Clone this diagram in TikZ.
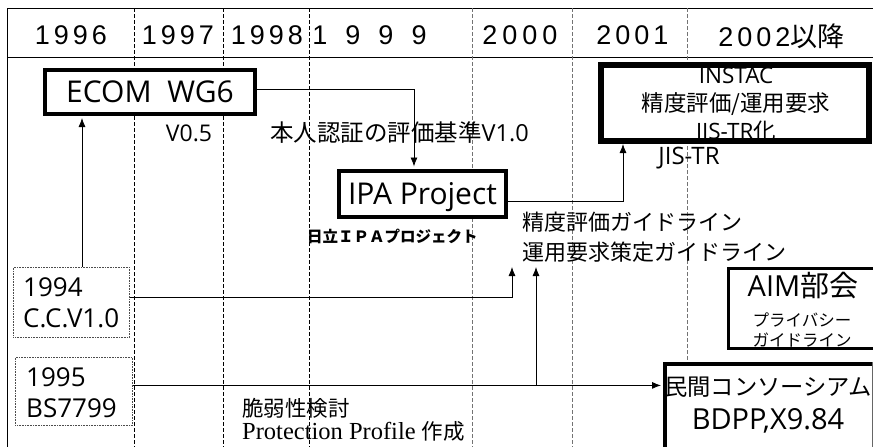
\documentclass[tikz,border=0pt]{standalone}
\usepackage{fontspec}
\setmainfont{Liberation Sans}
\newfontfamily\jp{Noto Sans CJK JP}
\newfontfamily\os{Open Sans}
\newfontfamily\tms{Liberation Serif}
\newfontfamily\ar{Liberation Sans}
\usetikzlibrary{arrows.meta}
\newcommand\gp[1]{\hspace{#1pt}}
\begin{document}
\begin{tikzpicture}[x=1pt,y=-1pt,
  box/.style={draw, fill=white, line width=4pt, inner sep=0pt},
  t/.style={inner sep=0pt},
  arr/.style={-{Latex[length=9pt,width=7pt]}, line width=0.8pt},
  vd/.style={line width=0.8pt, dash pattern=on 4pt off 2pt},
  dbox/.style={draw=black!70, line width=0.8pt, dash pattern=on 0.8pt off 0.8pt, inner sep=0pt},
  yr/.style={inner sep=0pt, font=\ar\fontsize{27}{27}\selectfont}]
\useasboundingbox (0,0) rectangle (873,447);
\fill[white] (0,0) rectangle (873,447);
% frame
\draw[line width=0.8pt] (873,8) -- (7,8) -- (7,447);
\draw[line width=0.8pt] (7,57) -- (873,57);
\foreach \x in {134,223,309} \draw[vd] (\x,8) -- (\x,447);
\foreach \x in {472,572,687} \draw[vd, black!55] (\x,8) -- (\x,447);
% header
\node[yr] (y96) at (71,35) {1\gp{4}9\gp{4}9\gp{4}6};
\node[yr] (y97) at (178,35) {1\gp{4}9\gp{4}9\gp{4}7};
\node[yr] (y98) at (267,35) {1\gp{4}9\gp{4}9\gp{4}8};
\node[yr] (y99) at (369.5,35) {1\gp{18}9\gp{18}9\gp{18}9};
\node[yr] (y00) at (520,35) {2\gp{5}0\gp{5}0\gp{5}0};
\node[yr] (y01) at (632.5,35) {2\gp{4}0\gp{4}0\gp{4}1};
\node[yr, text depth=0pt] (y02) at (781.5,35) {2\gp{4}0\gp{4}0\gp{4}2{\jp 以降}};
% ECOM
\node[box, minimum width=210pt, minimum height=44pt, font=\os\fontsize{30}{30}\selectfont] (ecom) at (150,92) {ECOM\hspace{0.52em}WG6};
\node[t, font=\os\fontsize{23}{23}\selectfont] (v05) at (189,133) {V0.5};
\node[t, anchor=west, font=\jp\fontsize{23.5}{23.5}\selectfont] (hon) at (270,133) {本人認証の評価基準{\os V1.0}};
% IPA
\node[box, minimum width=167pt, minimum height=46pt, text depth=0pt, font=\os\fontsize{30}{30}\selectfont] (ipa) at (422.5,193.5) {IPA Project};
\node[t, anchor=west, font=\jp\bfseries\fontsize{15.5}{15.5}\selectfont] (hitachi) at (307,236) {日立ＩＰＡプロジェクト};
% INSTAC
\node[box, minimum width=266pt, minimum height=74pt] (instac) at (735,103) {};
\node[t, align=center, font=\jp\fontsize{22.5}{28}\selectfont] (instt) at (736,105) {{\os INSTAC}\\精度評価/運用要求\\{\os JIS-TR}化};
\draw[line width=4pt] (instac.north west) rectangle (instac.south east);
\node[t, font=\os\fontsize{24}{24}\selectfont] (jis) at (689,158) {JIS-TR};
% guidelines
\node[t, anchor=west, align=left, font=\jp\fontsize{22}{30}\selectfont] (gl) at (522,237) {精度評価ガイドライン\\運用要求策定ガイドライン};
% AIM
\node[box, line width=3pt, minimum width=151.5pt, minimum height=80pt] (aim) at (804.25,308.5) {};
\node[t, font=\jp\fontsize{29}{29}\selectfont] (aimt) at (803,286) {{\os AIM}部会};
\node[t, font=\jp\fontsize{16.5}{16.5}\selectfont] (aimp) at (802,320) {プライバシー};
\node[t, font=\jp\fontsize{16.5}{16.5}\selectfont] (aimg) at (802,340) {ガイドライン};
% consortium
\node[box, minimum width=220pt, minimum height=91pt] (mk) at (775,409.5) {};
\draw[line width=0.8pt, black!60] (872,362) -- (872,447);
\node[t, font=\jp\fontsize{23.3}{23.3}\selectfont] (mkt) at (768,387) {民間コンソーシアム};
\node[t, text depth=0pt, font=\os\fontsize{29}{29}\selectfont] (bdpp) at (768,419) {BDPP,X9.84};
% dotted boxes
\node[dbox, minimum width=116pt, minimum height=70pt, anchor=north west] (c94) at (13,267) {};
\node[dbox, minimum width=117pt, minimum height=68pt, anchor=north west] (c95) at (15,357) {};
\node[t, anchor=west, align=left, font=\os\fontsize{26}{31.5}\selectfont] (c94t) at (23,303) {1994\\C.C.V1.0};
\node[t, anchor=west, align=left, font=\os\fontsize{26}{30.5}\selectfont] (c95t) at (26,392.5) {1995\\BS7799};
% bottom texts
\node[t, anchor=west, font=\jp\fontsize{21.5}{21.5}\selectfont] (zei) at (242,408) {脆弱性検討};
\node[t, anchor=west] (pp) at (242,431) {{\tms\fontsize{24.5}{24.5}\selectfont Protection Profile }{\jp\fontsize{21.5}{21.5}\selectfont 作成}};
% connectors
\coordinate (x82) at (82,0);
\coordinate (x414) at (414,0);
\coordinate (x623) at (623,0);
\coordinate (t1) at (512,267);
\coordinate (t2) at (536,267);
\coordinate (br) at (536,385);
\coordinate (s95) at ([yshift=6pt]c95.east);
\draw[arr, shorten >=2pt] (c94.north -| x82) -- (ecom.south -| x82);
\draw[arr, shorten >=2pt] ([yshift=3pt]ecom.east) -| (ipa.north -| x414);
\draw[arr, shorten >=2pt] ([yshift=-8pt]ipa.east) -| (instac.south -| x623);
\draw[arr] ([yshift=5pt]c94.east) -| (t1);
\draw[arr, shorten >=2pt] (s95) -- (s95 -| mk.west);
\draw[arr] (br) -- (t2);
\end{tikzpicture}
\end{document}
